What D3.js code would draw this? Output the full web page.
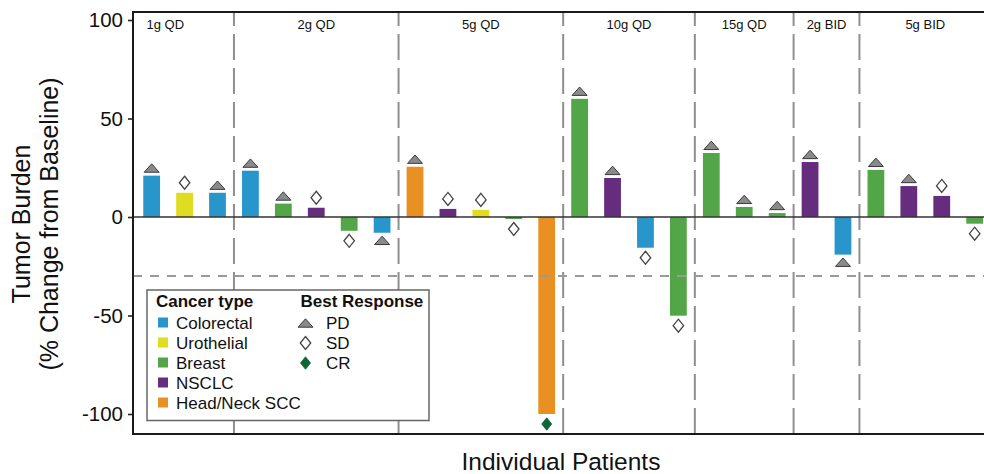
<!DOCTYPE html>
<html>
<head>
<meta charset="utf-8">
<script src="https://cdn.jsdelivr.net/npm/d3@7"></script>
<style>
  html, body { margin: 0; padding: 0; background: #fff; }
  svg { display: block; }
  text { font-family: "Liberation Sans", Arial, Helvetica, sans-serif; fill: #111; }
</style>
</head>
<body>
<svg id="chart" width="984" height="474"></svg>
<script>
// ---------------- data ----------------
const groups = ["1g QD", "2g QD", "5g QD", "10g QD", "15g QD", "2g BID", "5g BID"];
const groupSizes = [3, 5, 5, 4, 3, 2, 4];
const tumorChange = [
  21.0, 12.3, 12.3,
  23.5, 6.8, 4.7, -7.0, -8.0,
  25.5, 4.1, 3.6, -1.0, -100,
  60.0, 19.8, -15.6, -50.1,
  32.5, 5.1, 2.0,
  27.9, -19.1,
  23.9, 15.7, 10.7, -3.4
];
const cancerTypes = ["Colorectal", "Urothelial", "Breast", "NSCLC", "Head/Neck SCC"];
const patientCancer = [
  "Colorectal", "Urothelial", "Colorectal",
  "Colorectal", "Breast", "NSCLC", "Breast", "Colorectal",
  "Head/Neck SCC", "NSCLC", "Urothelial", "Breast", "Head/Neck SCC",
  "Breast", "NSCLC", "Colorectal", "Breast",
  "Breast", "Breast", "Breast",
  "NSCLC", "Colorectal",
  "Breast", "NSCLC", "NSCLC", "Breast"
];
const responseTypes = ["PD", "SD", "CR"];
const bestResponse = [
  "PD", "SD", "PD",
  "PD", "PD", "SD", "SD", "PD",
  "PD", "SD", "SD", "SD", "CR",
  "PD", "PD", "SD", "SD",
  "PD", "PD", "PD",
  "PD", "PD",
  "PD", "PD", "SD", "SD"
];
const yTicks = [100, 50, 0, -50, -100];
const yTickLabels = ["100", "50", "0", "-50", "-100"];
const thresholdValue = -30;

// ---------------- styles ----------------
const cancerColors = ["#2896cb", "#e0dc1f", "#53a647", "#662c7e", "#e89022"];
const color = d3.scaleOrdinal().domain(cancerTypes).range(cancerColors);

const svg = d3.select("#chart");
const plotLeft = 133, plotTop = 12, plotBottom = 434, plotRight = 992;

const n = tumorChange.length;
const x = d3.scaleBand().domain(d3.range(n)).range([135.2, 135.2 + n * 32.92]).padding(0);
const y = d3.scaleLinear().domain([-100, 100]).range([414, 20]);
const barW = x.bandwidth() * 0.51;
const cx = i => x(i) + x.bandwidth() / 2;

// group boundaries
const starts = [];
let acc = 0;
groupSizes.forEach(s => { starts.push(acc); acc += s; });

// vertical dashed dividers (drawn bottom -> top)
svg.append("g").selectAll("line")
  .data(starts.slice(1))
  .join("line")
  .attr("x1", d => x(d)).attr("x2", d => x(d))
  .attr("y1", plotBottom).attr("y2", plotTop)
  .attr("stroke", "#8f8f8f").attr("stroke-width", 2)
  .attr("stroke-dasharray", "26,8");

// group labels
svg.append("g").selectAll("text")
  .data(groups)
  .join("text")
  .attr("x", (d, i) => i === 0 ? plotLeft + 13.5 : (x(starts[i]) + (x(starts[i]) + groupSizes[i] * x.step())) / 2)
  .attr("y", 29)
  .attr("text-anchor", (d, i) => i === 0 ? "start" : "middle")
  .attr("font-size", 13)
  .text(d => d);

// bars
svg.append("g").selectAll("rect")
  .data(tumorChange)
  .join("rect")
  .attr("x", (d, i) => cx(i) - barW / 2)
  .attr("width", barW)
  .attr("y", d => Math.min(y(d), y(0)))
  .attr("height", d => Math.abs(y(d) - y(0)))
  .attr("fill", (d, i) => color(patientCancer[i]));

// threshold dashed line at -30
svg.append("line")
  .attr("x1", plotLeft).attr("x2", plotRight)
  .attr("y1", y(thresholdValue)).attr("y2", y(thresholdValue))
  .attr("stroke", "#9a9a9a").attr("stroke-width", 2)
  .attr("stroke-dasharray", "9,8");

// zero line
svg.append("line")
  .attr("x1", plotLeft).attr("x2", plotRight)
  .attr("y1", y(0)).attr("y2", y(0))
  .attr("stroke", "#333").attr("stroke-width", 1.6);

// marker shapes
function trianglePath(cx0, cy0) {
  const w = 15, h = 8.4;
  return `M${cx0 - w / 2},${cy0 + h / 2}L${cx0 + w / 2},${cy0 + h / 2}L${cx0},${cy0 - h / 2}Z`;
}
function diamondPath(cx0, cy0, w, h) {
  return `M${cx0},${cy0 - h / 2}L${cx0 + w / 2},${cy0}L${cx0},${cy0 + h / 2}L${cx0 - w / 2},${cy0}Z`;
}
function drawMarker(g, type, px, py) {
  if (type === "PD") {
    g.append("path").attr("d", trianglePath(px, py))
      .attr("fill", "#8a8a8a").attr("stroke", "#3a3a3a").attr("stroke-width", 1).attr("stroke-linejoin", "round");
  } else if (type === "SD") {
    g.append("path").attr("d", diamondPath(px, py, 10.5, 13))
      .attr("fill", "#fff").attr("stroke", "#444").attr("stroke-width", 1.3);
  } else {
    g.append("path").attr("d", diamondPath(px, py, 10, 12.5))
      .attr("fill", "#0e6637").attr("stroke", "#0e6637").attr("stroke-width", 0.8);
  }
}

const markers = svg.append("g");
tumorChange.forEach((v, i) => {
  const type = bestResponse[i];
  const off = type === "PD" ? 7.6 : 10;
  const py = v >= 0 ? y(v) - off : y(v) + off;
  drawMarker(markers, type, cx(i), py);
});

// y axis
const yAxis = svg.append("g")
  .attr("transform", `translate(${plotLeft},0)`)
  .call(d3.axisLeft(y).tickValues(yTicks).tickSize(5).tickPadding(5)
    .tickFormat((d, i) => yTickLabels[i]));
yAxis.select(".domain").remove();
yAxis.selectAll(".tick line").attr("stroke", "#222").attr("stroke-width", 1.6);
yAxis.selectAll(".tick text")
  .attr("font-size", 20.5)
  .attr("fill", "#111")
  .attr("font-family", "'Liberation Sans', Arial, Helvetica, sans-serif");

// frame
svg.append("path")
  .attr("d", `M${plotRight},${plotTop}H${plotLeft}V${plotBottom}H${plotRight}`)
  .attr("fill", "none").attr("stroke", "#1a1a1a").attr("stroke-width", 2);

// axis titles
const yTitle = ["Tumor Burden", "(% Change from Baseline)"];
svg.append("g").selectAll("text")
  .data(yTitle)
  .join("text")
  .attr("transform", (d, i) => `translate(${i === 0 ? 29.5 : 58},224) rotate(-90)`)
  .attr("text-anchor", "middle")
  .attr("font-size", 25)
  .text(d => d);

svg.append("text")
  .attr("x", 561).attr("y", 469.5)
  .attr("text-anchor", "middle")
  .attr("font-size", 24.5)
  .text("Individual Patients");

// legend
const lg = svg.append("g");
lg.append("rect")
  .attr("x", 147).attr("y", 290).attr("width", 282).attr("height", 130.5)
  .attr("fill", "#fff").attr("stroke", "#666").attr("stroke-width", 1.5);
lg.append("text").attr("x", 156).attr("y", 306.7)
  .attr("font-size", 17).attr("font-weight", "bold").text("Cancer type");
lg.append("text").attr("x", 300.5).attr("y", 306.7)
  .attr("font-size", 17).attr("font-weight", "bold").text("Best Response");
cancerTypes.forEach((c, i) => {
  const cy0 = 322.5 + i * 20;
  lg.append("rect").attr("x", 158).attr("y", cy0 - 5).attr("width", 10).attr("height", 10)
    .attr("fill", color(c));
  lg.append("text").attr("x", 176).attr("y", cy0 + 6).attr("font-size", 17).text(c);
});
responseTypes.forEach((r, i) => {
  const cy0 = 323 + i * 20;
  drawMarker(lg, r, 305.5, cy0);
  lg.append("text").attr("x", 326).attr("y", cy0 + 5.8).attr("font-size", 17).text(r);
});
</script>
</body>
</html>
